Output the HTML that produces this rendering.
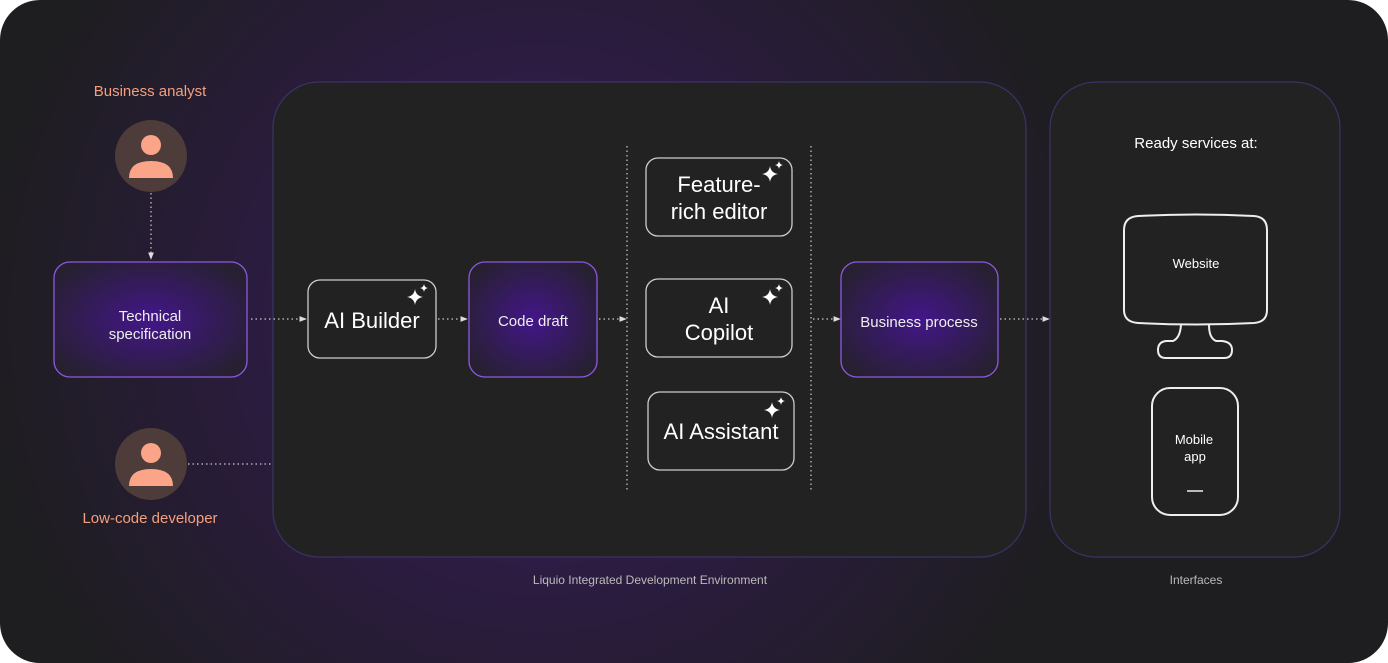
<!DOCTYPE html>
<html><head><style>
html,body{margin:0;padding:0;background:#fff;}
svg{display:block;font-family:"Liberation Sans",sans-serif;}
</style></head><body>
<svg width="1388" height="663" viewBox="0 0 1388 663" xmlns="http://www.w3.org/2000/svg">
<defs>
<radialGradient id="glow" cx="540" cy="320" r="560" gradientUnits="userSpaceOnUse">
<stop offset="0" stop-color="#4a1f80"/><stop offset="0.45" stop-color="#2c1c42"/><stop offset="1" stop-color="#1e1d20"/>
</radialGradient>
<radialGradient id="node" cx="0.5" cy="0.5" r="0.6">
<stop offset="0" stop-color="#43168a"/><stop offset="1" stop-color="#272031"/>
</radialGradient>
<marker id="ar" viewBox="0 0 10 10" refX="9" refY="5" markerWidth="6" markerHeight="6" orient="auto"><path d="M0,1 L10,5 L0,9z" fill="#ddd"/></marker>
<g id="spark" fill="#fff"><path d="M0,-8 Q1,-1 8,0 Q1,1 0,8 Q-1,1 -8,0 Q-1,-1 0,-8z"/><path d="M9,-13 Q9.5,-9.5 13,-9 Q9.5,-8.5 9,-5 Q8.5,-8.5 5,-9 Q8.5,-9.5 9,-13z"/></g>
</defs>
<rect x="0" y="0" width="1388" height="663" rx="40" fill="url(#glow)"/>
<!-- panels -->
<rect x="273" y="82" width="753" height="475" rx="46" fill="#222222" stroke="#3b3366" stroke-width="1.2"/>
<rect x="1050" y="82" width="290" height="475" rx="46" fill="#222222" stroke="#3b3366" stroke-width="1.2"/>
<text x="650" y="584" fill="#bbb" font-size="12" text-anchor="middle">Liquio Integrated Development Environment</text>
<text x="1196" y="584" fill="#bbb" font-size="12" text-anchor="middle">Interfaces</text>
<!-- people -->
<text x="150" y="96" fill="#f4a07e" font-size="15" text-anchor="middle">Business analyst</text>
<circle cx="151" cy="156" r="36" fill="#4d3c3a"/>
<circle cx="151" cy="145" r="10" fill="#fba488"/>
<path d="M129,178 Q129,161 151,161 Q173,161 173,178z" fill="#fba488" />
<circle cx="151" cy="464" r="36" fill="#4d3c3a"/>
<circle cx="151" cy="453" r="10" fill="#fba488"/>
<path d="M129,486 Q129,469 151,469 Q173,469 173,486z" fill="#fba488"/>
<text x="150" y="523" fill="#f4a07e" font-size="15" text-anchor="middle">Low-code developer</text>
<!-- connectors -->
<g stroke="#ccc" stroke-width="1.2" stroke-dasharray="1.5 3" fill="none">
<line x1="151" y1="193" x2="151" y2="259" marker-end="url(#ar)"/>
<line x1="188" y1="464" x2="273" y2="464"/>
<line x1="251" y1="319" x2="306" y2="319" marker-end="url(#ar)"/>
<line x1="438" y1="319" x2="467" y2="319" marker-end="url(#ar)"/>
<line x1="599" y1="319" x2="626" y2="319" marker-end="url(#ar)"/>
<line x1="813" y1="319" x2="840" y2="319" marker-end="url(#ar)"/>
<line x1="1000" y1="319" x2="1049" y2="319" marker-end="url(#ar)"/>
<line x1="627" y1="146" x2="627" y2="492"/>
<line x1="811" y1="146" x2="811" y2="492"/>
</g>
<!-- gradient nodes -->
<rect x="54" y="262" width="193" height="115" rx="16" fill="url(#node)" stroke="#8a5ae0" stroke-width="1.3"/>
<text fill="#eee" font-size="15" text-anchor="middle"><tspan x="150" y="321">Technical</tspan><tspan x="150" y="339">specification</tspan></text>
<rect x="469" y="262" width="128" height="115" rx="16" fill="url(#node)" stroke="#8a5ae0" stroke-width="1.3"/>
<text x="533" y="326" fill="#eee" font-size="15" text-anchor="middle">Code draft</text>
<rect x="841" y="262" width="157" height="115" rx="16" fill="url(#node)" stroke="#8a5ae0" stroke-width="1.3"/>
<text x="919" y="327" fill="#eee" font-size="15" text-anchor="middle">Business process</text>
<!-- AI boxes -->
<g fill="#222" stroke="#ccc" stroke-width="1.3">
<rect x="308" y="280" width="128" height="78" rx="12"/>
<rect x="646" y="158" width="146" height="78" rx="12"/>
<rect x="646" y="279" width="146" height="78" rx="12"/>
<rect x="648" y="392" width="146" height="78" rx="12"/>
</g>
<g fill="#fff" font-size="22" text-anchor="middle">
<text x="372" y="328">AI Builder</text>
<text x="719" y="192">Feature-</text><text x="719" y="219">rich editor</text>
<text x="719" y="313">AI</text><text x="719" y="340">Copilot</text>
<text x="721" y="439">AI Assistant</text>
</g>
<use href="#spark" x="415" y="297"/>
<use href="#spark" x="770" y="174"/>
<use href="#spark" x="770" y="297"/>
<use href="#spark" x="772" y="410"/>
<!-- interfaces -->
<text x="1196" y="148" fill="#fff" font-size="15" text-anchor="middle">Ready services at:</text>
<g fill="none" stroke="#eee" stroke-width="2">
<path d="M1138,216 Q1196,213 1254,216 Q1267,217 1267,230 L1267,310 Q1267,322 1254,323 Q1196,326 1138,323 Q1124,322 1124,310 L1124,230 Q1124,217 1138,216z"/>
<path d="M1181,325 Q1180,338 1173,341 L1166,341 Q1158,342 1158,350 Q1158,358 1166,358 L1224,358 Q1232,358 1232,350 Q1232,342 1222,341 L1216,341 Q1209,338 1209,325"/>
<rect x="1152" y="388" width="86" height="127" rx="18"/>
</g>
<line x1="1187" y1="491" x2="1203" y2="491" stroke="#eee" stroke-width="1.5"/>
<text x="1196" y="268" fill="#fff" font-size="13" text-anchor="middle">Website</text>
<text fill="#fff" font-size="13" text-anchor="middle"><tspan x="1194" y="444">Mobile</tspan><tspan x="1195" y="461">app</tspan></text>
</svg>
</body></html>
